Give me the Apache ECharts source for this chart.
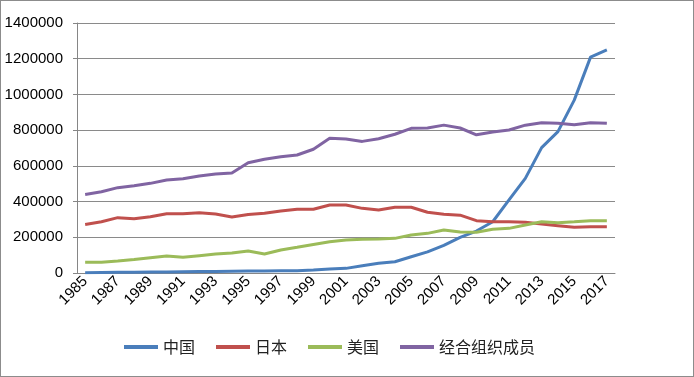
<!DOCTYPE html>
<html>
<head>
<meta charset="utf-8">
<script src="https://cdn.jsdelivr.net/npm/echarts@6/dist/echarts.min.js"></script>
<style>
  html, body { margin: 0; padding: 0; background: #fff; }
  #chart { width: 692px; height: 375px; border: 1px solid #8c8c8c; }
</style>
</head>
<body>
<div id="chart"></div>
<script>
const years = []
for (let y = 1985; y <= 2017; y++) years.push(String(y))

const china = [2000, 3000, 4000, 4000, 5000, 6000, 7000, 8000, 9000, 10000, 11000,
  11000, 12000, 13000, 17000, 22000, 26000, 41000, 54000, 63000, 91000,
  118000, 155000, 200000, 235000, 287000, 409000, 530000, 702000, 792000, 968000,
  1209000, 1249000]
const japan = [272000, 287000, 310000, 304000, 315000, 332000, 332000, 338000, 330000, 314000, 328000,
  334000, 347000, 357000, 357000, 381000, 381000, 362000, 353000, 368000, 368000,
  340000, 329000, 324000, 293000, 287000, 287000, 284000, 274000, 265000, 256000,
  259000, 259000]
const usa = [60000, 60000, 67000, 75000, 86000, 95000, 88000, 97000, 106000, 112000, 123000,
  106000, 129000, 144000, 160000, 175000, 185000, 189000, 190000, 194000, 213000,
  222000, 241000, 229000, 228000, 245000, 250000, 269000, 287000, 282000, 287000,
  293000, 293000]
const oecd = [440000, 455000, 478000, 489000, 502000, 521000, 528000, 543000, 554000, 560000, 617000,
  637000, 651000, 661000, 693000, 754000, 750000, 737000, 752000, 777000, 810000,
  812000, 828000, 812000, 774000, 790000, 801000, 828000, 842000, 838000, 830000,
  842000, 838000]

const names = ['中国', '日本', '美国', '经合组织成员']
const colors = ['#4a7ebb', '#c0504d', '#9bbb59', '#8064a2']

const mycharts = echarts.init(document.getElementById('chart'))
const font = 'Liberation Sans, Arial, sans-serif'

const option = {
  animation: false,
  color: colors,
  grid: { left: 76, right: 78, top: 22, bottom: 103 },
  legend: {
    left: 118,
    top: 333,
    icon: 'rect',
    itemWidth: 34,
    itemHeight: 4,
    itemGap: 21,
    textStyle: { fontFamily: 'Noto Sans CJK SC', fontSize: 16, color: '#222' },
    data: names
  },
  xAxis: {
    type: 'category',
    data: years,
    boundaryGap: true,
    axisLine: { lineStyle: { color: '#868686', width: 1 } },
    axisTick: { interval: 0, length: 4, lineStyle: { color: '#868686' } },
    axisLabel: {
      interval: 1,
      rotate: 45,
      margin: 6,
      color: '#000',
      fontSize: 15,
      fontFamily: font
    }
  },
  yAxis: {
    type: 'value',
    min: 0,
    max: 1400000,
    interval: 200000,
    axisLine: { show: true, lineStyle: { color: '#868686' } },
    axisTick: { show: true, length: 4, lineStyle: { color: '#868686' } },
    axisLabel: {
      color: '#000',
      fontSize: 15,
      fontFamily: font,
      margin: 14,
      formatter: v => String(v)
    },
    splitLine: { lineStyle: { color: '#8a8a8a', width: 1 } }
  },
  series: [china, japan, usa, oecd].map((d, i) => ({
    name: names[i],
    type: 'line',
    data: d,
    showSymbol: false,
    symbol: 'none',
    lineStyle: { width: 3 }
  }))
}
mycharts.setOption(option)
</script>
</body>
</html>
